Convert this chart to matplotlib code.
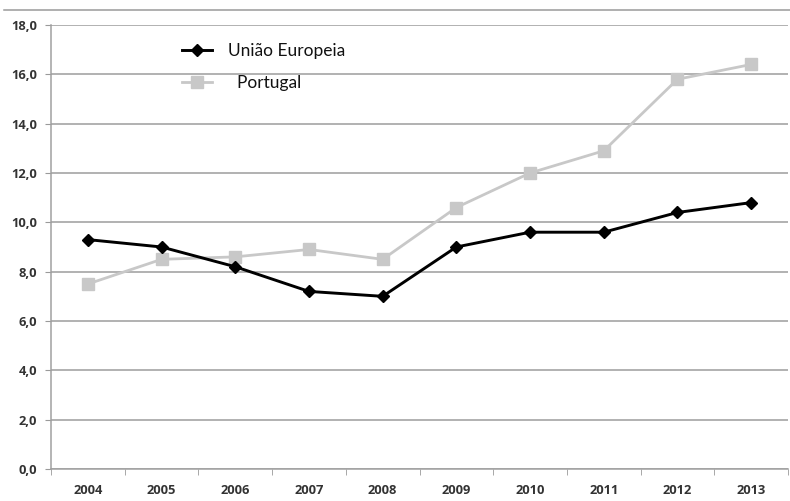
import matplotlib.pyplot as plt
from matplotlib.lines import Line2D

anos = ['2004', '2005', '2006', '2007', '2008', '2009', '2010', '2011', '2012', '2013']
uniao_europeia = [9.3, 9.0, 8.2, 7.2, 7.0, 9.0, 9.6, 9.6, 10.4, 10.8]
portugal = [7.5, 8.5, 8.6, 8.9, 8.5, 10.6, 12.0, 12.9, 15.8, 16.4]
y_ticks = [0, 2, 4, 6, 8, 10, 12, 14, 16, 18]

fig = plt.figure(figsize=(7.9, 5.01), dpi=100)
ax = fig.add_axes([51 / 790, 1 - 469 / 501, 737 / 790, 444 / 501])

x = list(range(len(anos)))
ax.plot(x, portugal, color='#c8c8c8', lw=2.0, marker='s', ms=8.5,
        label='  Portugal', zorder=3)
ax.plot(x, uniao_europeia, color='black', lw=2.1, marker='D', ms=6.5,
        label='União Europeia', zorder=4)

ax.set_xlim(-0.5, len(anos) - 0.5)
ax.set_ylim(0, 18)
ax.set_yticks(y_ticks)
ax.set_yticklabels([f'{v:.1f}'.replace('.', ',') for v in y_ticks])
ax.set_xticks(x)
ax.set_xticklabels(anos)
# marcas do eixo x entre as categorias
ax.set_xticks([i - 0.5 for i in range(len(anos) + 1)], minor=True)
ax.tick_params(axis='x', which='major', length=0, pad=11)
ax.tick_params(axis='x', which='minor', length=4, color='#9a9a9a', direction='out')
ax.tick_params(axis='y', length=4, color='#9a9a9a', pad=6)
for lbl in ax.get_xticklabels() + ax.get_yticklabels():
    lbl.set_fontfamily('Open Sans')
    lbl.set_fontweight('bold')
    lbl.set_fontsize(9.3)
    lbl.set_color('#333333')

ax.grid(axis='y', color='#9c9c9c', lw=1.1)
ax.set_axisbelow(True)
for side in ['top', 'right']:
    ax.spines[side].set_visible(False)
for side in ['left', 'bottom']:
    ax.spines[side].set_color('#a0a0a0')
    ax.spines[side].set_linewidth(1.1)

handles, labels = ax.get_legend_handles_labels()
leg = ax.legend(handles[::-1], labels[::-1], loc='upper left',
                bbox_to_anchor=(166 / 790, 1 - 27 / 501), bbox_transform=fig.transFigure,
                frameon=False, prop={'family': 'Lato', 'size': 12.5},
                handlelength=1.75, handletextpad=0.9, labelspacing=0.95)
for t in leg.get_texts():
    t.set_color('#111111')

# linha superior da moldura
fig.add_artist(Line2D([4 / 790, 1.0], [1 - 10 / 501, 1 - 10 / 501],
                      transform=fig.transFigure, color='#9a9a9a', lw=1.1))

fig.savefig('out.png', dpi=100)
